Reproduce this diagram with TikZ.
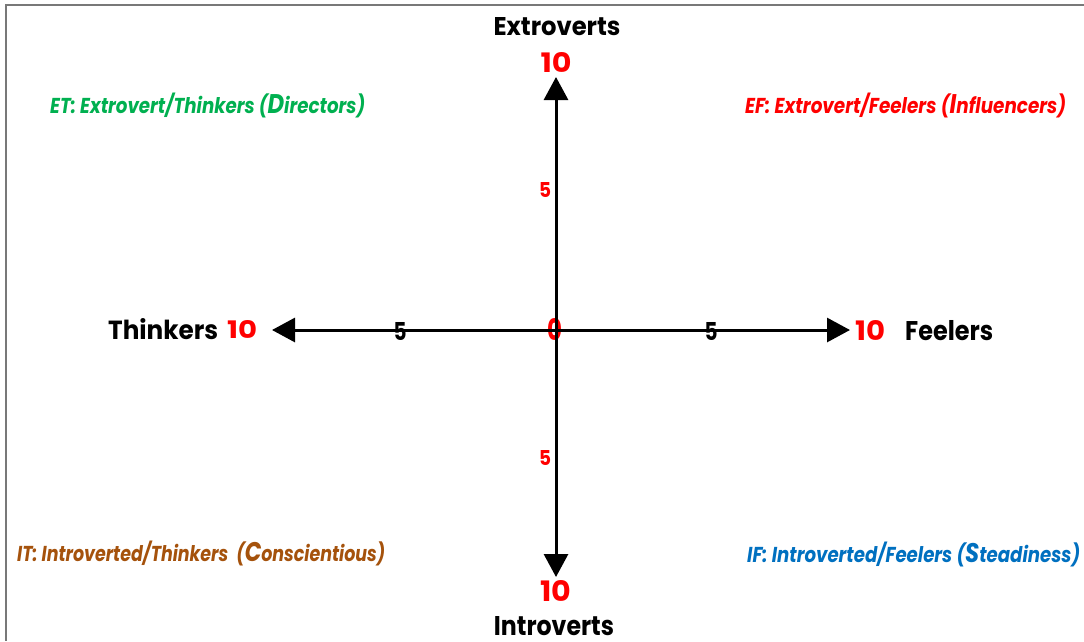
\documentclass[tikz,border=0pt]{standalone}
\usepackage{fontspec}
\setmainfont{Poppins}
\usetikzlibrary{arrows.meta}
\definecolor{etgreen}{RGB}{0,176,80}
\definecolor{efred}{RGB}{255,0,0}
\definecolor{itbrown}{RGB}{165,82,12}
\definecolor{ifblue}{RGB}{0,112,192}
\definecolor{framegray}{RGB}{120,120,120}
\newcommand{\fitwh}[3]{\resizebox{#1}{#2}{#3}}
\newcommand{\bigini}[1]{{\fontsize{12.5}{12.5}\selectfont #1}}
\begin{document}
\begin{tikzpicture}[x=1pt,y=-1pt,
  axis/.style={line width=3pt,-{Triangle[length=23pt,width=24pt]}},
  pole/.style={inner sep=0pt,anchor=base,font=\bfseries,text=black},
  num/.style={inner sep=0pt,anchor=base,font=\bfseries,text=efred},
  tick/.style={inner sep=0pt,anchor=base,font=\bfseries},
  quad/.style={inner sep=0pt,anchor=base west,font=\fontsize{10}{10}\selectfont\bfseries\itshape}]
\useasboundingbox (0,0) rectangle (1084,641);
\fill[white] (0,0) rectangle (1084,641);
\draw[framegray,line width=1.5pt] (1084,5) -- (6,5) -- (6,641);
% pole labels
\node[pole] (ext) at (557,35) {\fitwh{127pt}{18pt}{Extroverts}};
\node[pole] (int) at (554,635) {\fitwh{120pt}{19pt}{Introverts}};
\node[pole,anchor=base west] (thk) at (108,339) {\fitwh{110pt}{21pt}{Thinkers}};
\node[pole,anchor=base west] (fel) at (905,340) {\fitwh{88pt}{20pt}{Feelers}};
% tens
\node[num] (tn) at (556,72) {\fitwh{31pt}{20pt}{10}};
\node[num] (ts) at (556,601) {\fitwh{31pt}{21pt}{10}};
\node[num,anchor=base west] (tw) at (227,338) {\fitwh{30pt}{18pt}{10}};
\node[num,anchor=base west] (te) at (855,340) {\fitwh{30pt}{20pt}{10}};
% fives and zero
\node[tick,text=efred] (fn) at (545,197) {\fitwh{12pt}{15pt}{5}};
\node[tick,text=efred] (fs) at (545,465) {\fitwh{12pt}{15pt}{5}};
\node[tick,text=black] (fw) at (400,340) {\fitwh{13pt}{18pt}{5}};
\node[tick,text=black] (fe) at (711,340) {\fitwh{13pt}{18pt}{5}};
\node[tick,text=efred] (zero) at (555,340) {\fitwh{15pt}{22pt}{0}};
% axes
\coordinate (O) at (556,330);
\coordinate (N) at (556,77);
\coordinate (S) at (556,577);
\coordinate (W) at (272,330);
\coordinate (E) at (850,330);
\draw[axis] (O) -- (N);
\draw[axis] (O) -- (S);
\draw[axis] (O) -- (W);
\draw[axis] (O) -- (E);
% quadrant labels
\node[quad,text=etgreen] (et) at (50,113) {\fitwh{315pt}{20.5pt}{ET: Extrovert/Thinkers (\bigini{D}irectors)}};
\node[quad,text=efred] (ef) at (745,113) {\fitwh{321pt}{20.5pt}{EF: Extrovert/Feelers (\bigini{I}nfluencers)}};
\node[quad,text=itbrown] (it) at (17,561) {\fitwh{368pt}{20.5pt}{IT: Introverted/Thinkers \ (\bigini{C}onscientious)}};
\node[quad,text=ifblue] (if) at (747,562) {\fitwh{333pt}{20.5pt}{IF: Introverted/Feelers (\bigini{S}teadiness)}};
\end{tikzpicture}
\end{document}
